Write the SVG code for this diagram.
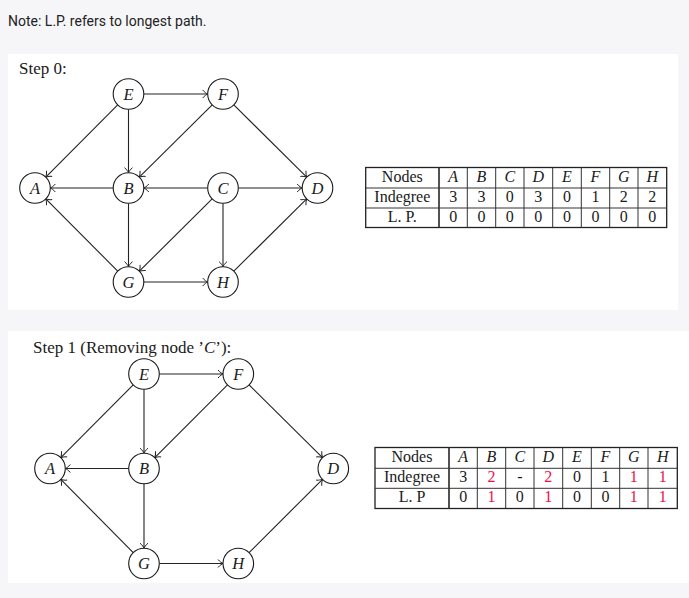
<svg xmlns="http://www.w3.org/2000/svg" width="689" height="598" viewBox="0 0 689 598">
<style>
.bg{fill:#f6f6f8}
.panel{fill:#ffffff}
.note{font-family:Roboto,"Liberation Sans",sans-serif;font-size:14px;fill:#222}
.cap{font-family:"Liberation Serif","DejaVu Serif",serif;font-size:17px;fill:#1a1a1a}
.node circle{fill:#fff;stroke:#1a1a1a;stroke-width:1.1}
.node text{font-family:"Liberation Serif","DejaVu Serif",serif;font-style:italic;font-size:16.5px;fill:#1a1a1a;text-anchor:middle}
.edges line{stroke:#222;stroke-width:1.1;marker-end:url(#arr)}
.grid line{stroke:#333;stroke-width:1}
.grid .outer{fill:none;stroke:#222;stroke-width:1.3}
.grid .dbl{stroke-width:1.7}
.cell{font-family:"Liberation Serif","DejaVu Serif",serif;font-size:16px;fill:#1a1a1a;text-anchor:middle}
.it{font-style:italic}
.red{fill:#f2104a}
</style>
<defs>
<marker id="arr" viewBox="-6 -5 7 10" markerWidth="7" markerHeight="10" refX="0" refY="0" orient="auto" markerUnits="userSpaceOnUse">
<path d="M-5,-4 C-3,-1.5 -1,-0.5 0,0 C-1,0.5 -3,1.5 -5,4" fill="none" stroke="#222" stroke-width="1"/>
</marker>
</defs>
<rect class="bg" x="0" y="0" width="689" height="598"/>
<text class="note" x="8" y="26">Note: L.P. refers to longest path.</text>
<rect class="panel" x="8" y="54" width="670" height="256"/>
<rect class="panel" x="8" y="331" width="681" height="252"/>

<g id="step0">
<text class="cap" x="19" y="74">Step 0:</text>
<g id="edges0" class="edges">
<line x1="143.8" y1="94" x2="207.7" y2="94"/>
<line x1="117.7" y1="104.85" x2="45.8" y2="177.15"/>
<line x1="128.5" y1="109.3" x2="128.5" y2="172.7"/>
<line x1="212.2" y1="104.85" x2="139.3" y2="177.15"/>
<line x1="233.8" y1="104.85" x2="306.7" y2="177.15"/>
<line x1="113.2" y1="188" x2="50.3" y2="188"/>
<line x1="207.7" y1="188" x2="143.8" y2="188"/>
<line x1="238.3" y1="188" x2="302.2" y2="188"/>
<line x1="128.5" y1="203.3" x2="128.5" y2="266.7"/>
<line x1="212.15" y1="198.8" x2="139.35" y2="271.2"/>
<line x1="223" y1="203.3" x2="223" y2="266.7"/>
<line x1="117.7" y1="271.15" x2="45.8" y2="198.85"/>
<line x1="143.8" y1="282" x2="207.7" y2="282"/>
<line x1="233.8" y1="271.15" x2="306.7" y2="198.85"/>
</g>
<g id="s0-E" class="node"><circle cx="128.5" cy="94" r="15.3"/><text x="128.5" y="99.5">E</text></g>
<g id="s0-F" class="node"><circle cx="223" cy="94" r="15.3"/><text x="223" y="99.5">F</text></g>
<g id="s0-A" class="node"><circle cx="35" cy="188" r="15.3"/><text x="35" y="193.5">A</text></g>
<g id="s0-B" class="node"><circle cx="128.5" cy="188" r="15.3"/><text x="128.5" y="193.5">B</text></g>
<g id="s0-C" class="node"><circle cx="223" cy="188" r="15.3"/><text x="223" y="193.5">C</text></g>
<g id="s0-D" class="node"><circle cx="317.5" cy="188" r="15.3"/><text x="317.5" y="193.5">D</text></g>
<g id="s0-G" class="node"><circle cx="128.5" cy="282" r="15.3"/><text x="128.5" y="287.5">G</text></g>
<g id="s0-H" class="node"><circle cx="223" cy="282" r="15.3"/><text x="223" y="287.5">H</text></g>
</g>

<g id="table0">
<g class="grid">
<rect class="outer" x="365.7" y="167.5" width="301" height="60"/>
<line x1="365.7" y1="188" x2="666.7" y2="188"/>
<line x1="365.7" y1="208" x2="666.7" y2="208"/>
<line class="dbl" x1="439" y1="167.5" x2="439" y2="227.5"/>
<line x1="467.3" y1="167.5" x2="467.3" y2="227.5"/>
<line x1="495.7" y1="167.5" x2="495.7" y2="227.5"/>
<line x1="524" y1="167.5" x2="524" y2="227.5"/>
<line x1="552.7" y1="167.5" x2="552.7" y2="227.5"/>
<line x1="581.3" y1="167.5" x2="581.3" y2="227.5"/>
<line x1="609.7" y1="167.5" x2="609.7" y2="227.5"/>
<line x1="638" y1="167.5" x2="638" y2="227.5"/>
</g>
<text class="cell" x="402.3" y="181.5">Nodes</text>
<text class="cell it" x="453.2" y="181.5">A</text>
<text class="cell it" x="481.5" y="181.5">B</text>
<text class="cell it" x="509.8" y="181.5">C</text>
<text class="cell it" x="538.3" y="181.5">D</text>
<text class="cell it" x="567" y="181.5">E</text>
<text class="cell it" x="595.5" y="181.5">F</text>
<text class="cell it" x="623.8" y="181.5">G</text>
<text class="cell it" x="652.3" y="181.5">H</text>
<text class="cell" x="402.3" y="202">Indegree</text>
<text class="cell" x="453.2" y="202">3</text>
<text class="cell" x="481.5" y="202">3</text>
<text class="cell" x="509.8" y="202">0</text>
<text class="cell" x="538.3" y="202">3</text>
<text class="cell" x="567" y="202">0</text>
<text class="cell" x="595.5" y="202">1</text>
<text class="cell" x="623.8" y="202">2</text>
<text class="cell" x="652.3" y="202">2</text>
<text class="cell" x="402.3" y="222">L. P.</text>
<text class="cell" x="453.2" y="222">0</text>
<text class="cell" x="481.5" y="222">0</text>
<text class="cell" x="509.8" y="222">0</text>
<text class="cell" x="538.3" y="222">0</text>
<text class="cell" x="567" y="222">0</text>
<text class="cell" x="595.5" y="222">0</text>
<text class="cell" x="623.8" y="222">0</text>
<text class="cell" x="652.3" y="222">0</text>
</g>

<g id="step1">
<text class="cap" x="33" y="353">Step 1 (Removing node ’<tspan font-style="italic">C</tspan>’):</text>
<g id="edges1" class="edges">
<line x1="159.3" y1="374" x2="223" y2="374"/>
<line x1="133.2" y1="384.85" x2="60.8" y2="457.65"/>
<line x1="144" y1="389.3" x2="144" y2="453.2"/>
<line x1="227.5" y1="384.85" x2="154.8" y2="457.65"/>
<line x1="249.1" y1="384.85" x2="322.5" y2="457.65"/>
<line x1="128.7" y1="468.5" x2="65.3" y2="468.5"/>
<line x1="144" y1="483.8" x2="144" y2="548.2"/>
<line x1="133.2" y1="552.65" x2="60.8" y2="479.35"/>
<line x1="159.3" y1="563.5" x2="223" y2="563.5"/>
<line x1="249.1" y1="552.65" x2="322.5" y2="479.35"/>
</g>
<g id="s1-E" class="node"><circle cx="144" cy="374" r="15.3"/><text x="144" y="379.5">E</text></g>
<g id="s1-F" class="node"><circle cx="238.3" cy="374" r="15.3"/><text x="238.3" y="379.5">F</text></g>
<g id="s1-A" class="node"><circle cx="50" cy="468.5" r="15.3"/><text x="50" y="474">A</text></g>
<g id="s1-B" class="node"><circle cx="144" cy="468.5" r="15.3"/><text x="144" y="474">B</text></g>
<g id="s1-D" class="node"><circle cx="333.3" cy="468.5" r="15.3"/><text x="333.3" y="474">D</text></g>
<g id="s1-G" class="node"><circle cx="144" cy="563.5" r="15.3"/><text x="144" y="569">G</text></g>
<g id="s1-H" class="node"><circle cx="238.3" cy="563.5" r="15.3"/><text x="238.3" y="569">H</text></g>
</g>

<g id="table1">
<g class="grid">
<rect class="outer" x="375" y="447.5" width="302.3" height="61"/>
<line x1="375" y1="468.3" x2="677.3" y2="468.3"/>
<line x1="375" y1="488.3" x2="677.3" y2="488.3"/>
<line class="dbl" x1="449" y1="447.5" x2="449" y2="508.5"/>
<line x1="477.3" y1="447.5" x2="477.3" y2="508.5"/>
<line x1="505.7" y1="447.5" x2="505.7" y2="508.5"/>
<line x1="534" y1="447.5" x2="534" y2="508.5"/>
<line x1="562.7" y1="447.5" x2="562.7" y2="508.5"/>
<line x1="591.3" y1="447.5" x2="591.3" y2="508.5"/>
<line x1="619.7" y1="447.5" x2="619.7" y2="508.5"/>
<line x1="648" y1="447.5" x2="648" y2="508.5"/>
</g>
<text class="cell" x="412" y="461.5">Nodes</text>
<text class="cell it" x="463.2" y="461.5">A</text>
<text class="cell it" x="491.5" y="461.5">B</text>
<text class="cell it" x="519.8" y="461.5">C</text>
<text class="cell it" x="548.3" y="461.5">D</text>
<text class="cell it" x="577" y="461.5">E</text>
<text class="cell it" x="605.5" y="461.5">F</text>
<text class="cell it" x="633.8" y="461.5">G</text>
<text class="cell it" x="662.7" y="461.5">H</text>
<text class="cell" x="412" y="482">Indegree</text>
<text class="cell" x="463.2" y="482">3</text>
<text class="cell red" x="491.5" y="482">2</text>
<text class="cell" x="519.8" y="482">-</text>
<text class="cell red" x="548.3" y="482">2</text>
<text class="cell" x="577" y="482">0</text>
<text class="cell" x="605.5" y="482">1</text>
<text class="cell red" x="633.8" y="482">1</text>
<text class="cell red" x="662.7" y="482">1</text>
<text class="cell" x="412" y="502">L. P</text>
<text class="cell" x="463.2" y="502">0</text>
<text class="cell red" x="491.5" y="502">1</text>
<text class="cell" x="519.8" y="502">0</text>
<text class="cell red" x="548.3" y="502">1</text>
<text class="cell" x="577" y="502">0</text>
<text class="cell" x="605.5" y="502">0</text>
<text class="cell red" x="633.8" y="502">1</text>
<text class="cell red" x="662.7" y="502">1</text>
</g>
</svg>
